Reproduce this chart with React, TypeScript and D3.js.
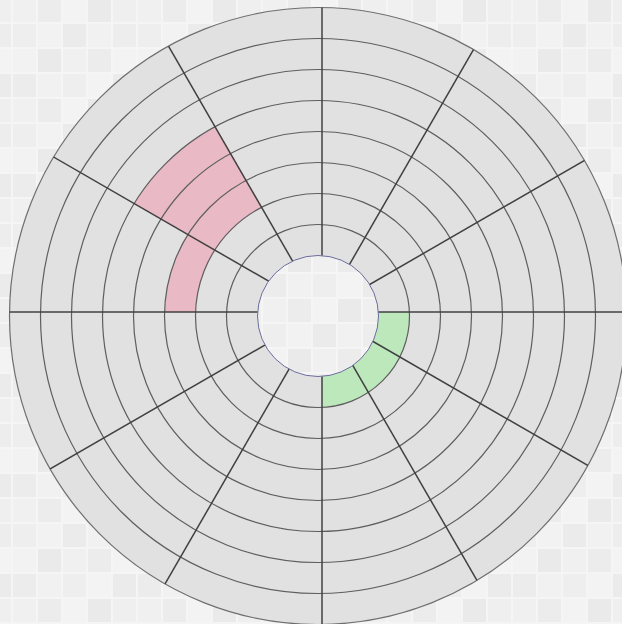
import React from "react";
import * as d3 from "d3";

// grid layout of the disc
const ringCount = 8;
const sectorCount = 12;

// highlighted cells: [sector, ring] (sector 0 = top, clockwise; ring 0 = innermost)
const pinkCells: [number, number][] = [
  [10, 2],
  [10, 3],
  [10, 4],
  [9, 2],
];
const greenCells: [number, number][] = [
  [3, 0],
  [4, 0],
  [5, 0],
];

// background tile shades (repeating)
const tileShades = [
  ["#eeeeee", "#f2f2f2", "#ebebeb", "#f1f1f1", "#ededed"],
  ["#f2f2f2", "#eaeaea", "#f0f0f0", "#ececec", "#f3f3f3"],
  ["#ececec", "#f1f1f1", "#eeeeee", "#f3f3f3", "#ebebeb"],
  ["#f0f0f0", "#ececec", "#f3f3f3", "#eaeaea", "#efefef"],
];

const W = 622;
const H = 624;
const ringCenter = { x: 318, y: 316 };
const spokeCenter = { x: 322, y: 312 };

const App = () => {
  const r = d3.scaleLinear().domain([0, ringCount]).range([60.5, 308.5]);
  const a = d3.scaleLinear().domain([0, sectorCount]).range([0, 2 * Math.PI]);

  const band = (ring: number) =>
    d3.arc()({
      innerRadius: r(ring),
      outerRadius: r(ring + 1),
      startAngle: 0,
      endAngle: 2 * Math.PI,
    } as any) as string;

  const annulus = d3.arc()({
    innerRadius: r(0),
    outerRadius: r(ringCount),
    startAngle: 0,
    endAngle: 2 * Math.PI,
  } as any) as string;

  const pt = (ang: number, rad: number) => [
    spokeCenter.x + rad * Math.sin(ang),
    spokeCenter.y - rad * Math.cos(ang),
  ];

  // wedge from the spoke centre, used to cut a ring band down to one cell
  const wedge = (s: number) => {
    const a0 = a(s);
    const a1 = a(s + 1);
    const pts = [
      [spokeCenter.x, spokeCenter.y],
      pt(a0, 600),
      pt((a0 + a1) / 2, 600),
      pt(a1, 600),
    ];
    return "M" + pts.map((p) => p.join(",")).join("L") + "Z";
  };

  const tiles: { x: number; y: number; c: string }[] = [];
  for (let j = -1; j * 25 < H; j++) {
    for (let i = -1; i * 25 < W; i++) {
      const row = tileShades[((j % 4) + 4) % 4];
      tiles.push({ x: 12 + i * 25 + 1, y: 23 + j * 25 + 1, c: row[((i % 5) + 5) % 5] });
    }
  }

  const cells = [
    ...pinkCells.map(([s, g]) => ({ s, g, fill: "#e9b9c5" })),
    ...greenCells.map(([s, g]) => ({ s, g, fill: "#bce8bb" })),
  ];

  return (
    <svg
      width={W}
      height={H}
      style={{ position: "absolute", left: 0, top: 0 }}
    >
      <defs>
        <clipPath id="annulusClip">
          <path d={annulus} transform={`translate(${ringCenter.x},${ringCenter.y})`} />
        </clipPath>
        {cells.map((c, i) => (
          <clipPath id={`wedge${i}`} key={i}>
            <path d={wedge(c.s)} />
          </clipPath>
        ))}
      </defs>
      <rect width={W} height={H} fill="#f5f5f5" />
      {tiles.map((t, i) => (
        <rect key={i} x={t.x} y={t.y} width={23} height={23} fill={t.c} />
      ))}
      <g transform={`translate(${ringCenter.x},${ringCenter.y})`}>
        <path d={annulus} fill="#e1e1e1" />
      </g>
      {cells.map((c, i) => (
        <g key={i} clipPath={`url(#wedge${i})`}>
          <path
            d={band(c.g)}
            transform={`translate(${ringCenter.x},${ringCenter.y})`}
            fill={c.fill}
          />
        </g>
      ))}
      <g transform={`translate(${ringCenter.x},${ringCenter.y})`}>
        {d3.range(1, ringCount + 1).map((k) => (
          <circle
            key={k}
            r={r(k)}
            fill="none"
            stroke={k === ringCount ? "#6f6f6f" : "#5e5e5e"}
            strokeWidth={1.2}
          />
        ))}
      </g>
      <g clipPath="url(#annulusClip)">
        {d3.range(sectorCount).map((s) => {
          const [x2, y2] = pt(a(s), 600);
          return (
            <line
              key={s}
              x1={spokeCenter.x}
              y1={spokeCenter.y}
              x2={x2}
              y2={y2}
              stroke="#404040"
              strokeWidth={1.5}
            />
          );
        })}
      </g>
      <circle
        cx={ringCenter.x}
        cy={ringCenter.y}
        r={r(0)}
        fill="none"
        stroke="#6c6c9c"
        strokeWidth={1}
      />
    </svg>
  );
};

export default App;
